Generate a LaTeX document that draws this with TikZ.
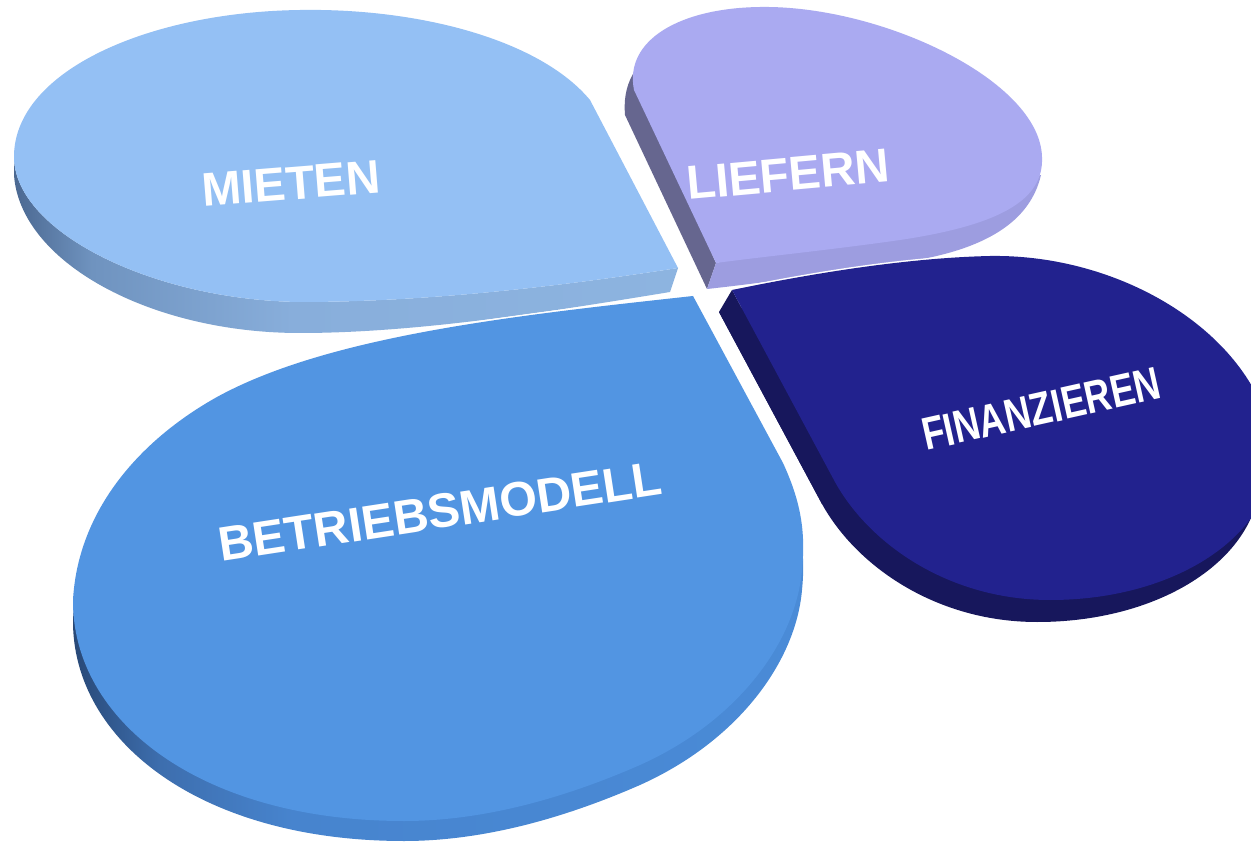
\documentclass[tikz,border=0pt]{standalone}
\usepackage{fontspec}
\setmainfont{Liberation Sans}
\usepackage{graphicx}
\definecolor{mietop}{HTML}{94C0F4}
\definecolor{mieA}{HTML}{4A6790}
\definecolor{mieB}{HTML}{6F93BF}
\definecolor{mieC}{HTML}{88AEDB}
\definecolor{mieD}{HTML}{8DB4E0}
\definecolor{lietop}{HTML}{AAAAF1}
\definecolor{lieleft}{HTML}{66668F}
\definecolor{liebot}{HTML}{9D9DE0}
\definecolor{fintop}{HTML}{22228E}
\definecolor{finside}{HTML}{17175C}
\definecolor{bettop}{HTML}{5295E2}
\definecolor{betA}{HTML}{284876}
\definecolor{betB}{HTML}{3D6EAE}
\definecolor{betC}{HTML}{4784CE}
\definecolor{betD}{HTML}{4A8BD7}
\pgfdeclarehorizontalshading{mieshade}{100bp}{color(0bp)=(mieA); color(25bp)=(mieA); color(31bp)=(mieB); color(46bp)=(mieC); color(75bp)=(mieD); color(100bp)=(mieD)}
\pgfdeclarehorizontalshading{betshade}{100bp}{color(0bp)=(betA); color(25bp)=(betA); color(31bp)=(betB); color(40bp)=(betC); color(75bp)=(betD); color(100bp)=(betD)}
\newcommand\finpath{(732,290) .. controls (800,276) and (900,258) .. (990,256) .. controls (1120,254) and (1245,330) .. (1270,430) .. controls (1292,520) and (1190,600) .. (1050,600) .. controls (950,600) and (870,545) .. (835,482) -- cycle}
\newcommand\betpath{(693,296) -- (783,463) .. controls (800,500) and (806,530) .. (802,570) .. controls (796,640) and (740,720) .. (640,765) .. controls (560,800) and (480,821) .. (404,821) .. controls (200,821) and (72,720) .. (73,600) .. controls (78,510) and (140,440) .. (217,397) .. controls (330,335) and (520,315) .. (693,296) -- cycle}
\begin{document}
\begin{tikzpicture}[x=1pt,y=-1pt,
  lbl/.style={text=white,inner sep=0pt,anchor=base west},
  gapline/.style={draw=white,line width=3pt,line join=round}]
\useasboundingbox (0,0) rectangle (1251,842);
\clip (0,0) rectangle (1251,842);
\fill[white] (0,0) rectangle (1251,842);
% ---------- MIETEN ----------
\shade[shading=mieshade] (14,155) .. controls (12,230) and (150,300) .. (300,302) .. controls (450,302) and (600,280) .. (678,268) -- (670,292) .. controls (560,310) and (420,333) .. (300,333) .. controls (150,333) and (20,262) .. (14,175) -- cycle;
\fill[mietop] (678,268) -- (590,100) .. controls (540,40) and (420,8) .. (300,10) .. controls (150,12) and (16,70) .. (14,155) .. controls (12,230) and (150,300) .. (300,302) .. controls (450,302) and (600,280) .. (678,268) -- cycle;
% ---------- LIEFERN ----------
\fill[lieleft] (633,74) .. controls (625,88) and (624,102) .. (625,115) -- (707,289) -- (716,263) -- cycle;
\fill[liebot] (716,263) -- (707,289) .. controls (780,281) and (850,270) .. (905,262) .. controls (985,250) and (1030,222) .. (1041,175) -- cycle;
\fill[lietop] (716,263) -- (634,90) .. controls (624,40) and (680,8) .. (760,7) .. controls (880,5) and (1040,80) .. (1042,157) .. controls (1044,200) and (1000,225) .. (900,240) .. controls (830,250) and (760,257) .. (716,263) -- cycle;
% ---------- FINANZIEREN ----------
\draw[gapline] \finpath;
\begin{scope}[shift={(-13,22)}]
  \fill[finside] \finpath;
\end{scope}
\fill[finside] (732,290) -- (719,312) -- (822,504) -- (835,482) -- cycle;
\fill[fintop] \finpath;
% ---------- BETRIEBSMODELL ----------
\draw[gapline] \betpath;
\begin{scope}[shift={(0,20)}]
  \shade[shading=betshade] \betpath;
\end{scope}
\fill[bettop] \betpath;
% ---------- labels ----------
\node[lbl,rotate=4.6,font=\bfseries\fontsize{47.3}{47.3}\selectfont] (mieten) at (203,207) {MIETEN};
\node[lbl,rotate=5.2,font=\bfseries\fontsize{47.6}{47.6}\selectfont] (liefern) at (688,200) {LIEFERN};
\node[lbl,rotate=12.6,font=\bfseries\fontsize{46}{46}\selectfont] (finanzieren) at (926,451) {\scalebox{0.785}[1]{FINANZIEREN}};
\node[lbl,rotate=8.7,font=\bfseries\fontsize{48.3}{48.3}\selectfont] (betrieb) at (221,562) {BETRIEBSMODELL};
\end{tikzpicture}
\end{document}
